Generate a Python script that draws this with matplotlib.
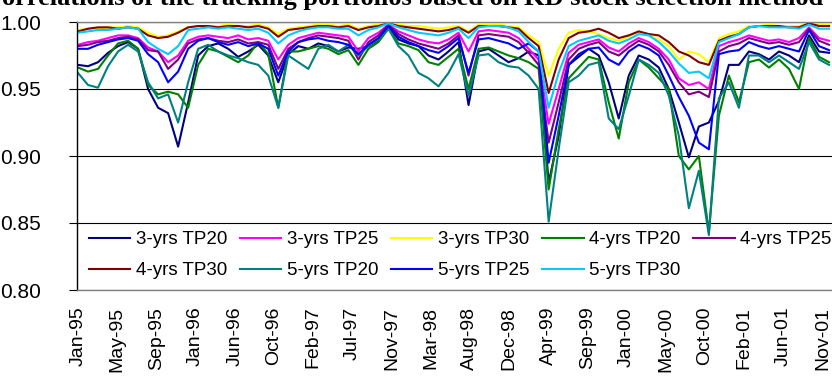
from matplotlib import pyplot as plt
import numpy as np

plt.rcParams['font.family'] = ['Liberation Sans', 'DejaVu Sans']

# trading-day index of every sampled reading (one reading every 23 trading days)
trading_day = np.arange(76) * 23

tick_labels = ['Jan-95', 'May-95', 'Sep-95', 'Jan-96', 'Jun-96', 'Oct-96', 'Feb-97',
               'Jul-97', 'Nov-97', 'Mar-98', 'Aug-98', 'Dec-98', 'Apr-99', 'Sep-99',
               'Jan-00', 'May-00', 'Oct-00', 'Feb-01', 'Jun-01', 'Nov-01']
tick_step = 90  # trading days between labels

y3_tp20 = [0.968, 0.967, 0.970, 0.977, 0.982, 0.985, 0.980, 0.950, 0.936, 0.932,
           0.907, 0.940, 0.975, 0.982, 0.984, 0.980, 0.974, 0.978, 0.983, 0.975,
           0.955, 0.976, 0.982, 0.980, 0.984, 0.982, 0.978, 0.981, 0.980, 0.982,
           0.986, 0.996, 0.987, 0.984, 0.982, 0.975, 0.972, 0.978, 0.985, 0.938,
           0.978, 0.980, 0.975, 0.970, 0.973, 0.978, 0.975, 0.880, 0.915, 0.968,
           0.974, 0.980, 0.975, 0.955, 0.928, 0.960, 0.975, 0.972, 0.966, 0.950,
           0.925, 0.899, 0.922, 0.925, 0.941, 0.968, 0.968, 0.978, 0.976, 0.972,
           0.978, 0.975, 0.970, 0.990, 0.978, 0.977]
y3_tp25 = [0.983, 0.985, 0.986, 0.988, 0.990, 0.990, 0.988, 0.981, 0.978, 0.970,
           0.975, 0.986, 0.989, 0.990, 0.989, 0.988, 0.990, 0.987, 0.988, 0.986,
           0.972, 0.983, 0.988, 0.990, 0.992, 0.991, 0.990, 0.989, 0.978, 0.988,
           0.992, 0.998, 0.993, 0.990, 0.987, 0.985, 0.984, 0.987, 0.992, 0.978,
           0.993, 0.994, 0.993, 0.992, 0.988, 0.980, 0.972, 0.924, 0.950, 0.977,
           0.983, 0.985, 0.987, 0.981, 0.978, 0.984, 0.988, 0.985, 0.980, 0.972,
           0.958, 0.953, 0.955, 0.950, 0.982, 0.985, 0.987, 0.990, 0.988, 0.986,
           0.987, 0.985, 0.988, 0.996, 0.988, 0.986]
y3_tp30 = [0.994, 0.995, 0.995, 0.996, 0.996, 0.997, 0.996, 0.992, 0.989, 0.990,
           0.993, 0.996, 0.997, 0.997, 0.997, 0.998, 0.997, 0.997, 0.998, 0.996,
           0.991, 0.995, 0.996, 0.997, 0.998, 0.998, 0.997, 0.998, 0.995, 0.997,
           0.998, 0.999, 0.998, 0.997, 0.997, 0.996, 0.995, 0.996, 0.997, 0.993,
           0.998, 0.998, 0.998, 0.997, 0.996, 0.990, 0.985, 0.960, 0.980, 0.992,
           0.994, 0.993, 0.991, 0.988, 0.986, 0.989, 0.993, 0.990, 0.987, 0.982,
           0.972, 0.978, 0.976, 0.970, 0.988, 0.991, 0.993, 0.997, 0.997, 0.998,
           0.997, 0.997, 0.997, 0.999, 0.998, 0.998]
y4_tp20 = [0.966, 0.963, 0.965, 0.975, 0.984, 0.986, 0.980, 0.953, 0.946, 0.948,
           0.946, 0.936, 0.968, 0.980, 0.978, 0.974, 0.970, 0.975, 0.985, 0.976,
           0.936, 0.978, 0.978, 0.980, 0.982, 0.980, 0.976, 0.979, 0.968, 0.980,
           0.985, 0.995, 0.984, 0.982, 0.979, 0.970, 0.968, 0.974, 0.980, 0.950,
           0.980, 0.981, 0.978, 0.975, 0.973, 0.970, 0.965, 0.875, 0.920, 0.958,
           0.966, 0.974, 0.972, 0.940, 0.913, 0.955, 0.972, 0.966, 0.958, 0.950,
           0.900, 0.890, 0.900, 0.843, 0.930, 0.960, 0.940, 0.970, 0.972, 0.966,
           0.972, 0.965, 0.950, 0.988, 0.974, 0.970]
y4_tp25 = [0.982, 0.983, 0.985, 0.986, 0.988, 0.989, 0.987, 0.979, 0.978, 0.965,
           0.972, 0.984, 0.987, 0.988, 0.986, 0.985, 0.987, 0.984, 0.985, 0.983,
           0.965, 0.980, 0.985, 0.988, 0.990, 0.989, 0.988, 0.986, 0.972, 0.985,
           0.990, 0.998, 0.991, 0.987, 0.984, 0.982, 0.980, 0.984, 0.990, 0.960,
           0.990, 0.991, 0.990, 0.989, 0.985, 0.977, 0.968, 0.910, 0.940, 0.972,
           0.980, 0.983, 0.985, 0.978, 0.975, 0.981, 0.986, 0.983, 0.978, 0.968,
           0.955, 0.946, 0.948, 0.944, 0.978, 0.982, 0.984, 0.988, 0.986, 0.984,
           0.985, 0.983, 0.985, 0.995, 0.986, 0.983]
y4_tp30 = [0.993, 0.995, 0.996, 0.996, 0.995, 0.996, 0.995, 0.990, 0.988, 0.989,
           0.992, 0.996, 0.997, 0.997, 0.996, 0.997, 0.997, 0.996, 0.997, 0.995,
           0.989, 0.994, 0.995, 0.996, 0.997, 0.997, 0.996, 0.997, 0.994, 0.996,
           0.997, 0.999, 0.997, 0.996, 0.995, 0.994, 0.993, 0.994, 0.996, 0.992,
           0.997, 0.997, 0.997, 0.996, 0.995, 0.988, 0.982, 0.947, 0.972, 0.988,
           0.992, 0.993, 0.995, 0.992, 0.988, 0.990, 0.993, 0.991, 0.990, 0.985,
           0.978, 0.975, 0.970, 0.968, 0.986, 0.989, 0.991, 0.996, 0.997, 0.997,
           0.997, 0.996, 0.996, 0.999, 0.997, 0.997]
y5_tp20 = [0.962, 0.953, 0.951, 0.967, 0.978, 0.983, 0.978, 0.955, 0.943, 0.946,
           0.925, 0.955, 0.980, 0.983, 0.978, 0.975, 0.973, 0.970, 0.968, 0.960,
           0.936, 0.975, 0.970, 0.965, 0.980, 0.983, 0.978, 0.983, 0.975, 0.982,
           0.987, 0.995, 0.982, 0.975, 0.962, 0.958, 0.952, 0.962, 0.976, 0.945,
           0.975, 0.976, 0.970, 0.967, 0.966, 0.960, 0.950, 0.851, 0.905, 0.955,
           0.960, 0.968, 0.970, 0.928, 0.920, 0.945, 0.972, 0.968, 0.962, 0.945,
           0.915, 0.861, 0.889, 0.841, 0.943, 0.955, 0.936, 0.975, 0.975, 0.970,
           0.975, 0.970, 0.965, 0.985, 0.972, 0.968]
y5_tp25 = [0.980, 0.980, 0.983, 0.985, 0.987, 0.988, 0.986, 0.976, 0.970, 0.955,
           0.963, 0.980, 0.986, 0.988, 0.985, 0.983, 0.985, 0.982, 0.984, 0.980,
           0.960, 0.978, 0.985, 0.987, 0.988, 0.986, 0.985, 0.983, 0.976, 0.983,
           0.988, 0.997, 0.989, 0.985, 0.982, 0.979, 0.977, 0.982, 0.988, 0.962,
           0.987, 0.988, 0.986, 0.984, 0.980, 0.984, 0.978, 0.895, 0.930, 0.968,
           0.976, 0.980, 0.981, 0.972, 0.968, 0.978, 0.983, 0.980, 0.975, 0.960,
           0.944, 0.930, 0.910, 0.905, 0.976, 0.978, 0.979, 0.985, 0.982, 0.980,
           0.982, 0.980, 0.978, 0.994, 0.982, 0.979]
y5_tp30 = [0.992, 0.993, 0.994, 0.994, 0.995, 0.996, 0.995, 0.985, 0.980, 0.976,
           0.982, 0.994, 0.995, 0.996, 0.995, 0.996, 0.995, 0.994, 0.995, 0.992,
           0.984, 0.990, 0.993, 0.995, 0.996, 0.996, 0.995, 0.995, 0.990, 0.994,
           0.996, 0.999, 0.996, 0.994, 0.992, 0.991, 0.990, 0.992, 0.995, 0.988,
           0.996, 0.997, 0.997, 0.996, 0.993, 0.985, 0.978, 0.936, 0.962, 0.982,
           0.986, 0.988, 0.990, 0.986, 0.984, 0.987, 0.991, 0.990, 0.985, 0.978,
           0.969, 0.962, 0.963, 0.958, 0.985, 0.988, 0.991, 0.996, 0.997, 0.996,
           0.996, 0.996, 0.995, 0.998, 0.995, 0.995]

series = [
    ('3-yrs TP20', y3_tp20, '#000080'),
    ('3-yrs TP25', y3_tp25, '#FF00FF'),
    ('3-yrs TP30', y3_tp30, '#FFFF00'),
    ('4-yrs TP20', y4_tp20, '#008000'),
    ('4-yrs TP25', y4_tp25, '#800080'),
    ('4-yrs TP30', y4_tp30, '#800000'),
    ('5-yrs TP20', y5_tp20, '#008080'),
    ('5-yrs TP25', y5_tp25, '#0000FF'),
    ('5-yrs TP30', y5_tp30, '#00CCFF'),
]

W, H = 832, 376
fig = plt.figure(figsize=(W / 100, H / 100), dpi=100)
# plot area: left edge at x=77px, 1.00 at y=22px, 0.80 at y=290px; runs past the right edge
ax = fig.add_axes([77 / W, (H - 290) / H, (860 - 77) / W, 268 / H])

px_per_day = 0.4365
ax.set_xlim(-1 / px_per_day, (860 - 76) / px_per_day)
ax.set_ylim(0.80, 1.00)

lines = []
for name, vals, col in series:
    ln, = ax.plot(trading_day, vals, color=col, lw=1.5, label=name)
    lines.append(ln)

ax.set_yticks([0.80, 0.85, 0.90, 0.95, 1.00])
ax.set_yticklabels(['0.80', '0.85', '0.90', '0.95', '1.00'], fontsize=15)
ax.yaxis.grid(True, color='black', lw=0.8)
ax.set_axisbelow(True)
ax.tick_params(axis='y', length=6, width=0.8, pad=20, color='black')

ax.set_xticks(np.arange(len(tick_labels)) * tick_step)
ax.set_xticklabels(tick_labels, rotation=90, fontsize=14, va='top')
ax.tick_params(axis='x', length=0, pad=12)

ax.spines['left'].set_color('black')
ax.spines['top'].set_color('#808080')
ax.spines['bottom'].set_color('#808080')
ax.spines['right'].set_visible(False)
for s in ax.spines.values():
    s.set_linewidth(1.0)

# legend fills row by row: reorder for matplotlib's column-first layout
order = [0, 5, 1, 6, 2, 7, 3, 8, 4]
ax.legend([lines[k] for k in order], [series[k][0] for k in order],
          ncol=5, loc='upper left', bbox_to_anchor=(89 / W, (H - 231) / H),
          bbox_transform=fig.transFigure, frameon=False, fontsize=13.5,
          handlelength=2.2, handletextpad=0.3, columnspacing=0.68,
          labelspacing=0.75, borderpad=0, borderaxespad=0)

fig.text(823 / W, 1 - 5 / H,
         'Correlations of the tracking portfolios based on KD stock selection method',
         ha='right', va='baseline', fontsize=19, fontweight='bold',
         family=['Liberation Serif', 'DejaVu Serif'])

fig.savefig('out.png', dpi=100)
